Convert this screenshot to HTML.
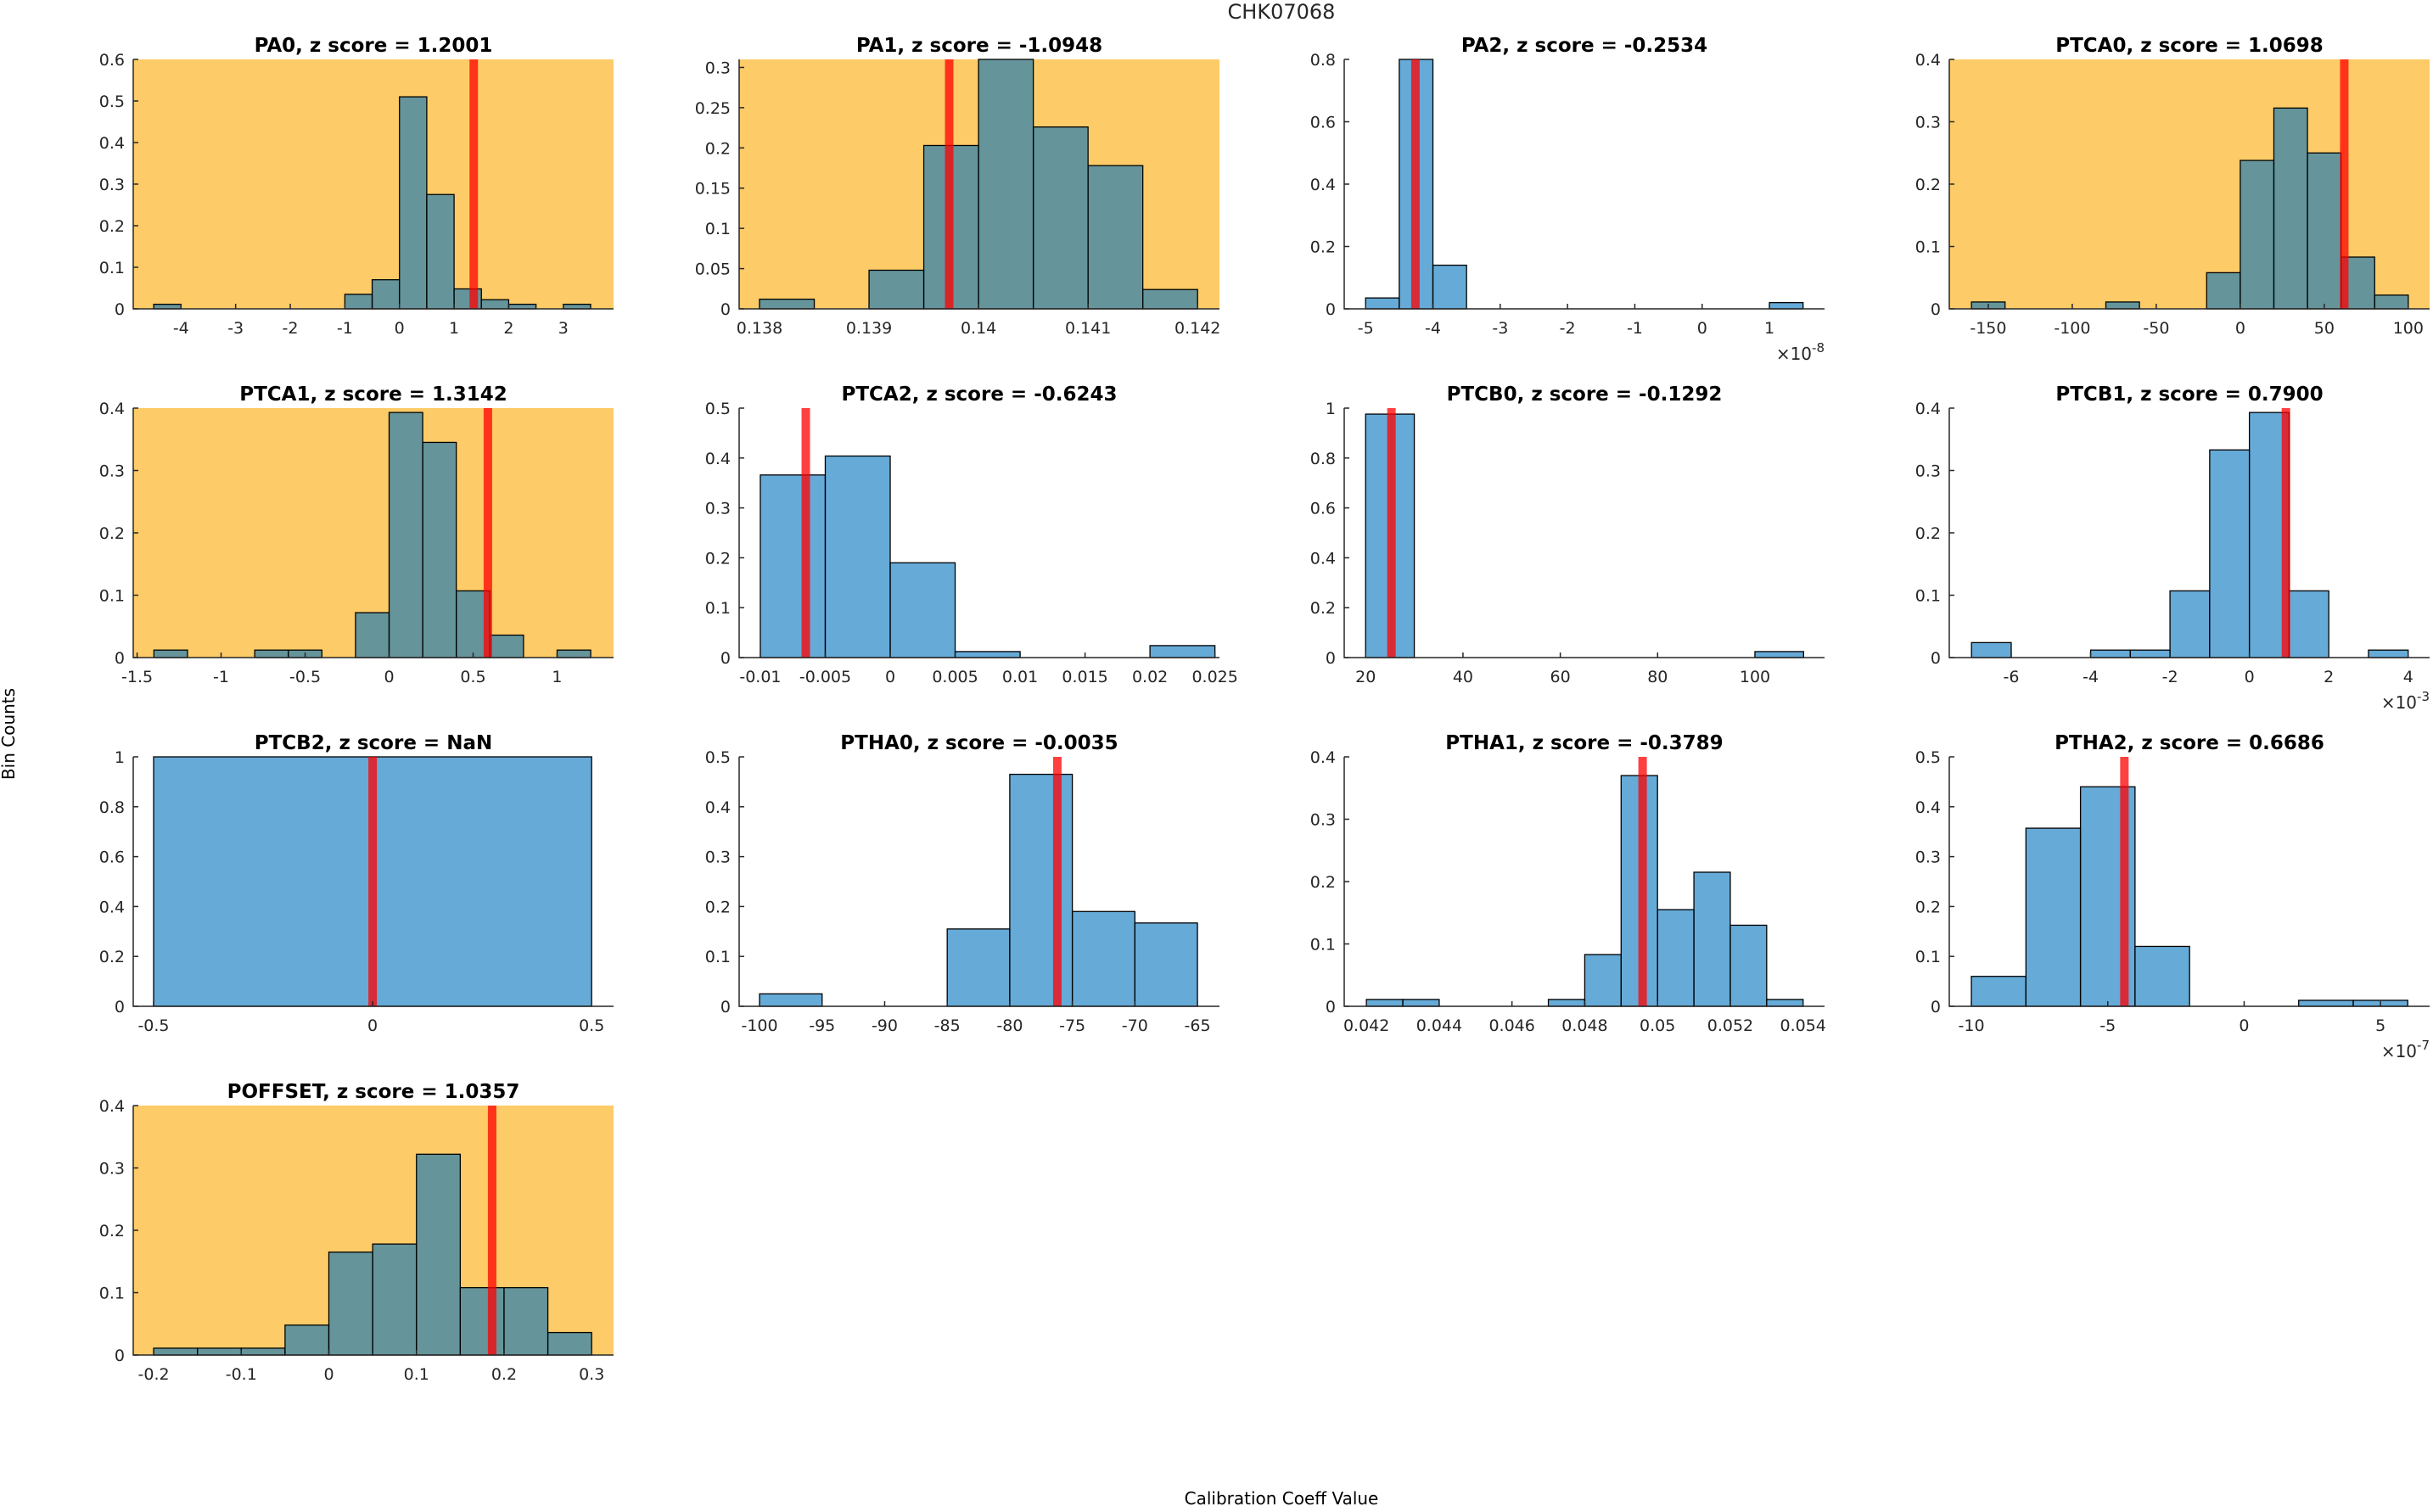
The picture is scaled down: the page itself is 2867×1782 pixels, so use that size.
<!DOCTYPE html>
<html><head><meta charset="utf-8">
<style>
html,body{margin:0;padding:0;background:#fff;}
svg text{font-family:"DejaVu Sans","Liberation Sans",sans-serif;}
</style></head>
<body>
<svg id="fig" xmlns="http://www.w3.org/2000/svg" width="2867" height="1777" viewBox="0 0 2867 1777">
<rect width="2867" height="1777" fill="#fff"/>
<text x="1510" y="22" font-size="24" text-anchor="middle" fill="#262626">CHK07068</text>
<text x="0" y="0" font-size="20" text-anchor="middle" fill="#000" transform="translate(17,865) rotate(-90)">Bin Counts</text>
<text x="1510" y="1773" font-size="20" text-anchor="middle" fill="#000">Calibration Coeff Value</text>
</svg>
<script>
const names = ["PA0","PA1","PA2","PTCA0","PTCA1","PTCA2","PTCB0","PTCB1","PTCB2","PTHA0","PTHA1","PTHA2","POFFSET"];
const zscores = ["1.2001","-1.0948","-0.2534","1.0698","1.3142","-0.6243","-0.1292","0.7900","NaN","-0.0035","-0.3789","0.6686","1.0357"];
const flagged = [true,true,false,true,true,false,false,false,false,false,false,false,true];
const binStart = [-4.5,0.138,-5,-160,-1.4,-0.01,20,-7,-0.5,-100,0.042,-10,-0.2];
const binWidth = [0.5,0.0005,0.5,20,0.2,0.005,10,1,1,5,0.001,2,0.05];
const counts = [
 [0.011,0,0,0,0,0,0,0.035,0.07,0.51,0.275,0.048,0.022,0.011,0,0.011],
 [0.012,0,0.048,0.203,0.31,0.226,0.178,0.024],
 [0.035,0.8,0.14,0,0,0,0,0,0,0,0,0,0.02],
 [0.011,0,0,0,0.011,0,0,0.058,0.238,0.322,0.25,0.083,0.022],
 [0.012,0,0,0.012,0.012,0,0.072,0.393,0.345,0.107,0.036,0,0.012],
 [0.366,0.404,0.19,0.012,0,0,0.024],
 [0.976,0,0,0,0,0,0,0,0.024],
 [0.024,0,0,0.012,0.012,0.107,0.333,0.393,0.107,0,0.012],
 [1],
 [0.025,0,0,0.155,0.465,0.19,0.167],
 [0.011,0.011,0,0,0,0.011,0.083,0.37,0.155,0.215,0.13,0.011],
 [0.06,0.357,0.44,0.12,0,0,0.012,0.012],
 [0.011,0.011,0.011,0.048,0.165,0.178,0.322,0.108,0.108,0.036]
];
const refValue = [1.36,0.139732,-4.26,61.9,0.588,-0.0065,25.3,0.92,0,-76.2,0.04959,-4.39,0.1864];
const xMin = [-4.875,0.137814,-5.318,-173.2,-1.523,-0.01163,15.6,-7.56,-0.5465,-101.63,0.04139,-10.81,-0.2233];
const xMax = [3.92,0.1422,1.819,112.7,1.336,0.02535,114.3,4.54,0.55,-63.24,0.05459,6.8,0.325];
const yMax = [0.6,0.31,0.8,0.4,0.4,0.5,1,0.4,1,0.5,0.4,0.5,0.4];
const xTicks = [
 [-4,-3,-2,-1,0,1,2,3],
 [0.138,0.139,0.14,0.141,0.142],
 [-5,-4,-3,-2,-1,0,1],
 [-150,-100,-50,0,50,100],
 [-1.5,-1,-0.5,0,0.5,1],
 [-0.01,-0.005,0,0.005,0.01,0.015,0.02,0.025],
 [20,40,60,80,100],
 [-6,-4,-2,0,2,4],
 [-0.5,0,0.5],
 [-100,-95,-90,-85,-80,-75,-70,-65],
 [0.042,0.044,0.046,0.048,0.05,0.052,0.054],
 [-10,-5,0,5],
 [-0.2,-0.1,0,0.1,0.2,0.3]
];
const yStep = [0.1,0.05,0.2,0.1,0.1,0.1,0.2,0.1,0.2,0.1,0.1,0.1,0.1];
const exponent = ["","","-8","","","","","-3","","","","-7",""];

const NS = "http://www.w3.org/2000/svg";
const svg = document.getElementById('fig');
const colX = [157,871,1584,2297];
const rowY = [70,481,892,1303];
const W = 566, H = 294;
function mk(tag, attrs, parent){
  const e = document.createElementNS(NS, tag);
  for (const k in attrs) e.setAttribute(k, attrs[k]);
  parent.appendChild(e);
  return e;
}
function fmt(v){ return (Math.round(v*1e6)/1e6).toString(); }

names.forEach((nm, i) => {
  const x0 = colX[i % 4], y0 = rowY[Math.floor(i / 4)];
  const g = mk('g', {}, svg);
  
  
  const sx = v => x0 + (v - xMin[i]) / (xMax[i] - xMin[i]) * W;
  const sy = v => y0 + H - v / yMax[i] * H;
  if (flagged[i]) {
    const bg = mk('rect', {x:x0, y:y0, width:W, height:H, fill:'#fdcb67'}, g);
    
    
  }
  counts[i].forEach((c, j) => {
    const a = binStart[i] + j * binWidth[i], b = a + binWidth[i];
    const r = mk('rect', {x:sx(a), y:sy(c), width:sx(b)-sx(a), height:sy(0)-sy(c),
      fill:'rgba(0,114,189,0.6)', stroke:'#000', 'stroke-width':1.3}, g);
    
    
  });
  const rl = mk('line', {x1:sx(refValue[i]), x2:sx(refValue[i]), y1:y0, y2:y0+H, stroke:'rgba(255,0,0,0.75)', 'stroke-width':10}, g);
  
  
  const ax = mk('path', {d:`M${x0},${y0} V${y0+H} H${x0+W}`, fill:'none', stroke:'#262626', 'stroke-width':1.5}, g);
  
  
  const n = Math.round(yMax[i] / yStep[i] + 1e-6);
  for (let k = 0; k <= n; k++) {
    const v = k * yStep[i], y = sy(v);
    mk('line', {x1:x0, x2:x0+6, y1:y, y2:y, stroke:'#262626', 'stroke-width':1.5}, g);
    const t = mk('text', {x:x0-10, y:y+7, 'font-size':19, 'text-anchor':'end', fill:'#262626'}, g);
    
    
    t.textContent = fmt(v);
  }
  xTicks[i].forEach(v => {
    const x = sx(v);
    mk('line', {x1:x, x2:x, y1:y0+H, y2:y0+H-6, stroke:'#262626', 'stroke-width':1.5}, g);
    const t = mk('text', {x:x, y:y0+H+29, 'font-size':19, 'text-anchor':'middle', fill:'#262626'}, g);
    
    
    t.textContent = fmt(v);
  });
  if (exponent[i]) {
    const t = mk('text', {x:x0+W, y:y0+H+60, 'font-size':20, 'text-anchor':'end', fill:'#262626'}, g);
    
    
    t.innerHTML = '×10<tspan dy="-9" font-size="15">' + exponent[i] + '</tspan>';
  }
  const tt = mk('text', {x:x0+W/2, y:y0-9, 'font-size':23, 'font-weight':'bold', 'text-anchor':'middle', fill:'#000'}, g);
  
  
  tt.textContent = nm + ', z score = ' + zscores[i];
});
</script>
</body></html>
